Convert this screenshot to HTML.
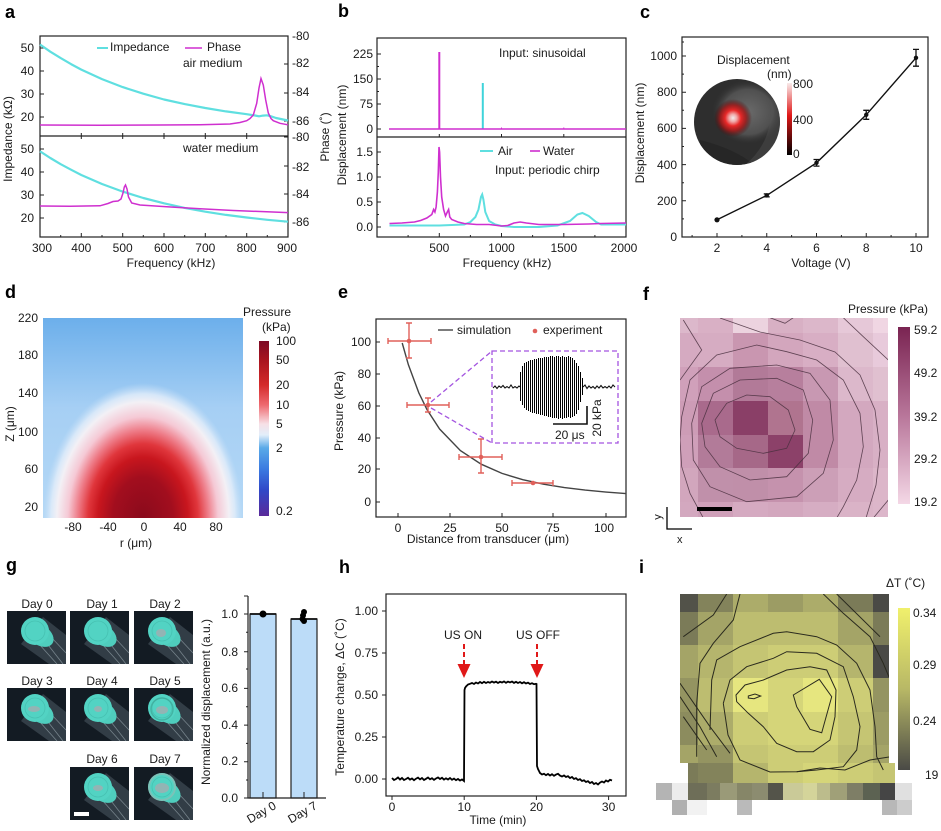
<!DOCTYPE html>
<html><head><meta charset="utf-8">
<style>
html,body{margin:0;padding:0;background:#fff;}
svg{display:block;}
text{font-family:"Liberation Sans",Arial,sans-serif;font-size:12px;fill:#1a1a1a;}
.lbl{font-size:18px;font-weight:bold;fill:#000;}
.ax{fill:none;stroke:#222;stroke-width:1.2;}
.tk{stroke:#222;stroke-width:1;fill:none;}
</style></head><body>
<svg width="941" height="831" viewBox="0 0 941 831" xmlns="http://www.w3.org/2000/svg">
<defs>
<linearGradient id="dbg" x1="0" y1="318" x2="0" y2="518" gradientUnits="userSpaceOnUse">
<stop offset="0" stop-color="#6cafeb"/><stop offset="0.45" stop-color="#a6cff4"/><stop offset="1" stop-color="#b4d8f6"/>
</linearGradient>
<radialGradient id="drad" gradientUnits="userSpaceOnUse" cx="143" cy="518" r="100" gradientTransform="translate(143 518) scale(1 1.35) translate(-143 -518)">
<stop offset="0" stop-color="#8a0a1c"/><stop offset="0.3" stop-color="#a20e1e"/><stop offset="0.45" stop-color="#c8161e"/><stop offset="0.55" stop-color="#e0363c"/><stop offset="0.65" stop-color="#ee7c88"/><stop offset="0.75" stop-color="#f5c9d5"/><stop offset="0.86" stop-color="#f3f0f5"/><stop offset="0.92" stop-color="#e4eefa" stop-opacity="0.8"/><stop offset="1" stop-color="#c8e0f6" stop-opacity="0"/>
</radialGradient>
<linearGradient id="dcb" x1="0" y1="0" x2="0" y2="1">
<stop offset="0" stop-color="#7d0a25"/><stop offset="0.109" stop-color="#a8141f"/><stop offset="0.251" stop-color="#d42a2a"/><stop offset="0.366" stop-color="#ee6a70"/><stop offset="0.474" stop-color="#f7e0e6"/><stop offset="0.537" stop-color="#e2eefa"/><stop offset="0.611" stop-color="#5aaae8"/><stop offset="0.737" stop-color="#3a78e0"/><stop offset="0.851" stop-color="#3048c8"/><stop offset="1" stop-color="#5a2a9a"/>
</linearGradient>
<linearGradient id="ccb" x1="0" y1="0" x2="0" y2="1">
<stop offset="0" stop-color="#f8eaea"/><stop offset="0.45" stop-color="#e01818"/><stop offset="1" stop-color="#000"/>
</linearGradient>
<radialGradient id="chot" cx="0.5" cy="0.5" r="0.5">
<stop offset="0" stop-color="#f2ecec"/><stop offset="0.2" stop-color="#f0a8a8"/><stop offset="0.42" stop-color="#e82828"/><stop offset="0.68" stop-color="#a81414" stop-opacity="0.8"/><stop offset="1" stop-color="#400" stop-opacity="0"/>
</radialGradient>
<radialGradient id="cgray" cx="0.5" cy="0.5" r="0.5">
<stop offset="0" stop-color="#6a6a6a"/><stop offset="0.7" stop-color="#505050"/><stop offset="1" stop-color="#333" stop-opacity="0"/>
</radialGradient>
<linearGradient id="fcb" x1="0" y1="0" x2="0" y2="1">
<stop offset="0" stop-color="#7a2452"/><stop offset="0.5" stop-color="#b8769a"/><stop offset="1" stop-color="#f4d8e6"/>
</linearGradient>
<linearGradient id="icb" x1="0" y1="0" x2="0" y2="1">
<stop offset="0" stop-color="#f0f06c"/><stop offset="0.5" stop-color="#b8b866"/><stop offset="1" stop-color="#4a4a46"/>
</linearGradient>
<clipPath id="cclip"><circle cx="737" cy="122" r="43"/></clipPath>
<clipPath id="fclip"><rect x="680" y="318" width="208" height="199"/></clipPath>
<clipPath id="iclip"><rect x="680" y="594" width="209" height="189"/></clipPath>
<clipPath id="dclip"><rect x="43" y="318" width="200" height="200"/></clipPath>
<g id="tile">
<rect width="59" height="53" fill="#131b23"/>
<polygon points="36,6 59,24 59,53 42,53 14,33" fill="#8fa4b0" fill-opacity="0.25"/>
<path d="M44,26 L59,42 M38,30 L56,53 M32,33 L50,53" stroke="#c8d6de" stroke-opacity="0.45" stroke-width="0.8" fill="none"/>
<ellipse cx="33" cy="24" rx="15" ry="10" transform="rotate(35 33 24)" fill="#4fcdbd"/>
<circle cx="28" cy="20" r="14" fill="#52d3c3"/>
<circle cx="28" cy="20" r="10" fill="none" stroke="#3fb5a6" stroke-width="0.8" opacity="0.6"/>
</g>
</defs>
<rect width="941" height="831" fill="#fff"/>

<!-- ============ Panel a ============ -->
<text class="lbl" x="5" y="18">a</text>
<rect class="ax" x="40" y="36" width="248" height="201"/>
<line class="ax" x1="40" y1="136" x2="288" y2="136"/>
<g class="tk">
<path d="M40,237v-4M81.3,237v-4M122.7,237v-4M164,237v-4M205.3,237v-4M246.7,237v-4M60.7,237v-2M102,237v-2M143.3,237v-2M184.7,237v-2M226,237v-2M267.3,237v-2"/>
<path d="M81.3,133v6M122.7,133v6M164,133v6M205.3,133v6M246.7,133v6"/>
<path d="M40,48h4M40,71h4M40,94h4M40,117h4M40,149h4M40,172h4M40,195h4M40,218h4"/>
<path d="M288,36h-4M288,64h-4M288,93h-4M288,121h-4M288,137h-4M288,166h-4M288,194h-4M288,222h-4"/>
</g>
<g text-anchor="end">
<text x="34" y="52">50</text><text x="34" y="75">40</text><text x="34" y="98">30</text><text x="34" y="121">20</text>
<text x="34" y="153">50</text><text x="34" y="176">40</text><text x="34" y="199">30</text><text x="34" y="222">20</text>
</g>
<g>
<text x="292" y="40">-80</text><text x="292" y="67">-82</text><text x="292" y="96">-84</text><text x="292" y="125">-86</text>
<text x="292" y="141">-80</text><text x="292" y="171">-82</text><text x="292" y="198">-84</text><text x="292" y="226">-86</text>
</g>
<g text-anchor="middle">
<text x="42" y="252">300</text><text x="81.3" y="252">400</text><text x="122.7" y="252">500</text><text x="164" y="252">600</text><text x="205.3" y="252">700</text><text x="246.7" y="252">800</text><text x="287" y="252">900</text>
<text x="171" y="267">Frequency (kHz)</text>
<text transform="translate(12,139) rotate(-90)">Impedance (kΩ)</text>
<text transform="translate(329,137) rotate(-90)">Phase (˚)</text>
</g>
<polyline fill="none" stroke="#5fdfe0" stroke-width="2.2" stroke-linejoin="round" points="40,44.5 50.3,51.7 60.7,58.1 71,64.1 81.3,69.6 102,79.1 122.7,87.1 143.3,93.7 164,99.5 184.7,104.1 205.3,108 226,111.4 246.7,114.2 255,115.5 259,116.3 263,115.6 267,115.3 271,116.3 276,118 288,120.5"/>
<polyline fill="none" stroke="#cf2fcf" stroke-width="1.5" points="40,125 100,125.3 160,125 200,124.8 230,124 240,122.5 246.7,120.7 250,118.5 253.3,115 256.7,103.3 259,88 261,78.5 263.3,85 265.7,100 268.3,113 271,118.5 273.3,120.7 280,123.3 288,124.8"/>
<polyline fill="none" stroke="#5fdfe0" stroke-width="2.2" stroke-linejoin="round" points="40,151.3 50.3,158 60.7,164.2 71,169.7 81.3,175 102,184 122.7,191.6 143.3,198 164,203.3 184.7,207.9 205.3,211.7 226,214.9 246.7,217.5 267.3,219.8 288,221.7"/>
<polyline fill="none" stroke="#cf2fcf" stroke-width="1.5" points="40,206 70,206.3 100,205.8 108,203.5 113,201.5 118,201 121,199 123,193 124.3,187 125.5,185 127,189 128.5,197 131.7,203 140,205 166.7,206.7 200,208.8 233.3,210.5 266.7,211.8 288,212.6"/>
<line x1="97" y1="48" x2="108" y2="48" stroke="#5fdfe0" stroke-width="2"/>
<text x="110" y="51">Impedance</text>
<line x1="185" y1="48" x2="202" y2="48" stroke="#cf2fcf" stroke-width="1.5"/>
<text x="207" y="51">Phase</text>
<text x="183" y="67">air medium</text>
<text x="183" y="152">water medium</text>

<!-- ============ Panel b ============ -->
<text class="lbl" x="338" y="17">b</text>
<rect class="ax" x="377" y="38" width="249" height="199"/>
<line class="ax" x1="377" y1="137" x2="626" y2="137"/>
<g class="tk">
<path d="M439.3,237v-4M501.5,237v-4M563.8,237v-4M408.1,237v-2M470.4,237v-2M532.6,237v-2M594.9,237v-2"/>
<path d="M439.3,137v-3M501.5,137v-3M563.8,137v-3"/>
<path d="M377,54h4M377,79h4M377,104h4M377,129h4M377,152h4M377,177h4M377,202h4M377,227h4M377,66.5h2M377,91.5h2M377,116.5h2M377,164.5h2M377,189.5h2M377,214.5h2"/>
</g>
<g text-anchor="end">
<text x="373" y="58">225</text><text x="373" y="83">150</text><text x="373" y="108">75</text><text x="373" y="133">0</text>
<text x="373" y="156">1.5</text><text x="373" y="181">1.0</text><text x="373" y="206">0.5</text><text x="373" y="231">0.0</text>
</g>
<g text-anchor="middle">
<text x="439.3" y="252">500</text><text x="501.5" y="252">1000</text><text x="563.8" y="252">1500</text><text x="624" y="252">2000</text>
<text x="507" y="267">Frequency (kHz)</text>
<text transform="translate(346,135) rotate(-90)">Displacement (nm)</text>
</g>
<line x1="482.8" y1="129" x2="482.8" y2="83" stroke="#3fd4da" stroke-width="2"/>
<line x1="389" y1="129" x2="626" y2="129" stroke="#cf2fcf" stroke-width="1.6"/>
<line x1="439.3" y1="129" x2="439.3" y2="52" stroke="#cf2fcf" stroke-width="2"/>
<path d="M501.5,129v-1.5M563.8,129v-1.5" stroke="#cf2fcf" stroke-width="1"/>
<text x="499" y="57">Input: sinusoidal</text>
<polyline fill="none" stroke="#5fdfe0" stroke-width="2" points="389.5,225.5 439.3,225.5 464.2,224.5 470.4,222 475.4,217 478.5,209.5 481,197 482.2,194.5 483.4,199.5 485.3,212 489.1,221 495.3,224.5 501.5,226 514,227 538.9,227 557.5,225.5 570,221 577.4,214.5 582.4,213 588.7,216 596.1,222 601.1,224.5 626,224.5"/>
<polyline fill="none" stroke="#cf2fcf" stroke-width="1.6" points="389.5,223.5 401.9,223 414.4,222 420.6,220.5 426.8,218 431.8,214.5 433.6,209.5 434.9,212 436.1,207 437.4,192 438.3,172 439,147 439.6,152 440.5,177 441.7,197 443.6,209.5 445.5,216 447.3,212 448.6,209.5 449.8,217 451.7,219.5 457.9,222 464.2,223.5 476.6,224.5 489.1,224.5 501.5,226 507.7,225.5 514,223 520.2,222 526.4,223 538.9,224.5 563.8,224.5 588.7,224 601.1,223.5 626,223"/>
<line x1="480" y1="151" x2="493" y2="151" stroke="#5fdfe0" stroke-width="2"/>
<text x="498" y="155">Air</text>
<line x1="530" y1="151" x2="540" y2="151" stroke="#cf2fcf" stroke-width="1.6"/>
<text x="543" y="155">Water</text>
<text x="495" y="174">Input: periodic chirp</text>

<!-- ============ Panel c ============ -->
<text class="lbl" x="640" y="18">c</text>
<rect class="ax" x="682" y="37" width="246" height="200"/>
<g class="tk">
<path d="M682,200.8h4M682,164.6h4M682,128.4h4M682,92.2h4M682,56h4M682,218.9h2M682,182.7h2M682,146.5h2M682,110.3h2M682,74.1h2M682,42h2"/>
<path d="M717,237v-4M766.75,237v-4M816.5,237v-4M866.25,237v-4M916,237v-4M692.1,237v-2M741.9,237v-2M791.6,237v-2M841.4,237v-2M891.1,237v-2"/>
</g>
<g text-anchor="end">
<text x="677" y="60">1000</text><text x="677" y="96">800</text><text x="677" y="132">600</text><text x="677" y="169">400</text><text x="677" y="205">200</text><text x="677" y="241">0</text>
</g>
<g text-anchor="middle">
<text x="717" y="252">2</text><text x="766.75" y="252">4</text><text x="816.5" y="252">6</text><text x="866.25" y="252">8</text><text x="916" y="252">10</text>
<text x="821" y="267">Voltage (V)</text>
<text transform="translate(644,133) rotate(-90)">Displacement (nm)</text>
</g>
<polyline fill="none" stroke="#111" stroke-width="1.4" points="717,219.8 766.75,195.4 816.5,162.8 866.25,114.8 916,57.8"/>
<g stroke="#111" stroke-width="1.3">
<path d="M766.75,193.9v3M763.75,193.9h6M763.75,196.9h6"/>
<path d="M816.5,159.5v6.6M813.5,159.5h6M813.5,166.1h6"/>
<path d="M866.25,110.3v9M863.25,110.3h6M863.25,119.3h6"/>
<path d="M916,49.4v16.8M913,49.4h6M913,66.2h6"/>
</g>
<g fill="#111">
<circle cx="717" cy="219.8" r="2.6"/><circle cx="766.75" cy="195.4" r="2.2"/><circle cx="816.5" cy="162.8" r="2.2"/><circle cx="866.25" cy="114.8" r="2.2"/><circle cx="916" cy="57.8" r="2.2"/>
</g>
<circle cx="737" cy="122" r="43" fill="#2e2e2e"/>
<g clip-path="url(#cclip)">
<ellipse cx="748" cy="112" rx="36" ry="32" fill="url(#cgray)"/>
<path d="M700,140 Q740,150 760,170 L700,170Z" fill="#262626"/>
<path d="M770,100 Q775,140 745,165 L790,170 L790,95Z" fill="#555" opacity="0.4"/>
<circle cx="733" cy="118" r="19" fill="url(#chot)"/>
</g>
<rect x="787" y="83" width="5" height="72" fill="url(#ccb)"/>
<text x="717" y="64">Displacement</text>
<text x="767" y="78">(nm)</text>
<text x="793" y="88">800</text><text x="793" y="124">400</text><text x="793" y="158">0</text>

<!-- ============ Panel d ============ -->
<text class="lbl" x="5" y="298">d</text>
<rect x="43" y="318" width="200" height="200" fill="url(#dbg)"/>
<g clip-path="url(#dclip)">
<rect x="43" y="318" width="200" height="200" fill="url(#drad)"/>
</g>
<g text-anchor="end">
<text x="38" y="322">220</text><text x="38" y="359">180</text><text x="38" y="397">140</text><text x="38" y="436">100</text><text x="38" y="473">60</text><text x="38" y="511">20</text>
</g>
<g text-anchor="middle">
<text x="73" y="531">-80</text><text x="108" y="531">-40</text><text x="144" y="531">0</text><text x="180" y="531">40</text><text x="216" y="531">80</text>
<text x="136" y="547">r (μm)</text>
<text transform="translate(14,424) rotate(-90)">Z (μm)</text>
</g>
<rect x="259" y="341" width="10" height="175" fill="url(#dcb)"/>
<text x="243" y="316">Pressure</text>
<text x="262" y="331">(kPa)</text>
<g>
<text x="276" y="345">100</text><text x="276" y="364">50</text><text x="276" y="389">20</text><text x="276" y="409">10</text><text x="276" y="428">5</text><text x="276" y="452">2</text><text x="276" y="515">0.2</text>
</g>

<!-- ============ Panel e ============ -->
<text class="lbl" x="338" y="298">e</text>
<rect class="ax" x="376" y="319" width="250" height="198"/>
<g class="tk">
<path d="M376,342h4M376,374h4M376,406h4M376,438h4M376,469h4M376,502h4"/>
<path d="M398,517v-4M450,517v-4M502,517v-4M553,517v-4M606,517v-4"/>
</g>
<g text-anchor="end">
<text x="371" y="346">100</text><text x="371" y="378">80</text><text x="371" y="410">60</text><text x="371" y="442">40</text><text x="371" y="473">20</text><text x="371" y="506">0</text>
</g>
<g text-anchor="middle">
<text x="398" y="532">0</text><text x="450" y="532">25</text><text x="502" y="532">50</text><text x="553" y="532">75</text><text x="604" y="532">100</text>
<text x="488" y="543">Distance from transducer (μm)</text>
<text transform="translate(343,411) rotate(-90)">Pressure (kPa)</text>
</g>
<polyline fill="none" stroke="#444" stroke-width="1.4" points="402.2,343 408.4,364.8 418.8,392.8 427.1,409.8 439.6,429 460.4,450.6 481.2,464.2 502,473.4 522.8,479.7 543.6,484.2 564.4,487.6 585.2,490.1 606,492.1 626,493.6"/>
<g stroke="#e0605a" stroke-width="1.4" fill="none">
<path d="M388,341h43M388,338v6M431,338v6M409,323v35M406,323h6M406,358h6"/>
<path d="M407,405h42M407,402v6M449,402v6M428,398v14M425,398h6M425,412h6"/>
<path d="M459,457h43M459,454v6M502,454v6M481,439v34M478,439h6M478,473h6"/>
<path d="M512,483h41M512,480v6M553,480v6"/>
</g>
<g fill="#e0605a">
<circle cx="409" cy="341" r="2.3"/><circle cx="428" cy="405" r="2.3"/><circle cx="481" cy="457" r="2.3"/><circle cx="533" cy="483" r="2.3"/>
</g>
<g stroke="#a455e0" stroke-width="1.3" stroke-dasharray="5,3" fill="none">
<rect x="492" y="351" width="126" height="92"/>
<path d="M431,402 L492,351 M431,408 L492,443"/>
</g>
<polyline fill="none" stroke="#111" stroke-width="1.1" points="493,388 495,386 497,388.5 499,386 501,387.5 503,385.5 505,388 507,386.5 509,388 511,385 513,388 515,386.5 517,388 519,386 520,387"/>
<polyline fill="none" stroke="#111" stroke-width="1.1" points="583,387 585,385 587,388.5 589,386 591,388 593,386.5 595,388.5 597,386 599,388 601,385.5 603,388 605,386.5 607,388 609,386 611,388 613,385 615,387"/>
<path fill="none" stroke="#000" stroke-width="1.3" shape-rendering="crispEdges" d="M520.5,372V401 M522.5,366V405 M524.5,363V408 M526.5,362V410 M528.5,361V411 M530.5,360V412 M532.5,360V413 M534.5,359V413 M536.5,359V414 M538.5,358V414 M540.5,358V415 M542.5,358V415 M544.5,357V416 M546.5,357V416 M548.5,357V417 M550.5,356V417 M552.5,356V418 M554.5,357V418 M556.5,356V418 M558.5,356V419 M560.5,357V418 M562.5,356V419 M564.5,357V418 M566.5,357V418 M568.5,356V417 M570.5,357V418 M572.5,358V417 M574.5,360V416 M576.5,363V414 M578.5,366V410 M580.5,372V402 M582.5,378V395"/>
<path d="M587,406 V424 H553" fill="none" stroke="#111" stroke-width="1.6"/>
<text x="555" y="439">20 μs</text>
<text transform="translate(601,418) rotate(-90)" text-anchor="middle">20 kPa</text>
<line x1="438" y1="330" x2="453" y2="330" stroke="#444" stroke-width="1.4"/>
<text x="457" y="334">simulation</text>
<circle cx="535" cy="331" r="2.3" fill="#e0605a"/>
<text x="543" y="334">experiment</text>

<!-- ============ Panel f ============ -->
<text class="lbl" x="643" y="300">f</text>
<g>
<rect x="680" y="318" width="18" height="15" fill="#dcb8cb"/><rect x="698" y="318" width="35" height="15" fill="#d9b0c5"/><rect x="733" y="318" width="35" height="15" fill="#ecd3df"/><rect x="768" y="318" width="35" height="15" fill="#d8b0c4"/><rect x="803" y="318" width="35" height="15" fill="#dcb7ca"/><rect x="838" y="318" width="35" height="15" fill="#e6c8d8"/><rect x="873" y="318" width="15" height="15" fill="#f0d6e3"/>
<rect x="680" y="333" width="18" height="34" fill="#d5aac1"/><rect x="698" y="333" width="35" height="34" fill="#d6acc2"/><rect x="733" y="333" width="35" height="34" fill="#c996b0"/><rect x="768" y="333" width="35" height="34" fill="#d3a6bd"/><rect x="803" y="333" width="35" height="34" fill="#d8aec4"/><rect x="838" y="333" width="35" height="34" fill="#e0c0d0"/><rect x="873" y="333" width="15" height="34" fill="#e8cadb"/>
<rect x="680" y="367" width="18" height="34" fill="#d0a0ba"/><rect x="698" y="367" width="35" height="34" fill="#c48fac"/><rect x="733" y="367" width="35" height="34" fill="#b27a98"/><rect x="768" y="367" width="35" height="34" fill="#b77f9d"/><rect x="803" y="367" width="35" height="34" fill="#c898b2"/><rect x="838" y="367" width="35" height="34" fill="#dcb8cb"/><rect x="873" y="367" width="15" height="34" fill="#e0c0d0"/>
<rect x="680" y="401" width="18" height="34" fill="#cd9cb6"/><rect x="698" y="401" width="35" height="34" fill="#a96a8c"/><rect x="733" y="401" width="35" height="34" fill="#8a3f67"/><rect x="768" y="401" width="35" height="34" fill="#b0748f"/><rect x="803" y="401" width="35" height="34" fill="#c08aa6"/><rect x="838" y="401" width="35" height="34" fill="#d3a8bf"/><rect x="873" y="401" width="15" height="34" fill="#d8b0c5"/>
<rect x="680" y="435" width="18" height="33" fill="#cf9fb9"/><rect x="698" y="435" width="35" height="33" fill="#b27b99"/><rect x="733" y="435" width="35" height="33" fill="#a66888"/><rect x="768" y="435" width="35" height="33" fill="#8c4169"/><rect x="803" y="435" width="35" height="33" fill="#c08aa6"/><rect x="838" y="435" width="35" height="33" fill="#d3a8bf"/><rect x="873" y="435" width="15" height="33" fill="#d8b0c5"/>
<rect x="680" y="468" width="18" height="34" fill="#d2a6bd"/><rect x="698" y="468" width="35" height="34" fill="#c090aa"/><rect x="733" y="468" width="35" height="34" fill="#c08fa9"/><rect x="768" y="468" width="35" height="34" fill="#c592ad"/><rect x="803" y="468" width="35" height="34" fill="#cc9fb7"/><rect x="838" y="468" width="35" height="34" fill="#d6acc2"/><rect x="873" y="468" width="15" height="34" fill="#dcb6c9"/>
<rect x="680" y="502" width="18" height="15" fill="#d3a8bf"/><rect x="698" y="502" width="35" height="15" fill="#cfa0b9"/><rect x="733" y="502" width="35" height="15" fill="#d5aac1"/><rect x="768" y="502" width="35" height="15" fill="#d3a7be"/><rect x="803" y="502" width="35" height="15" fill="#d6adc3"/><rect x="838" y="502" width="35" height="15" fill="#dab3c7"/><rect x="873" y="502" width="15" height="15" fill="#dcb6ca"/>
</g>
<g clip-path="url(#fclip)" fill="none" stroke="#4a3040" stroke-width="0.8" stroke-opacity="0.85">
<polygon points="715,420 726.7,403.3 746.7,395 770,396.7 788.3,410 795,430 786.7,448.3 763.3,453.3 736.7,448.3 720,436.7"/>
<polygon points="701.7,423.3 713.3,393.3 740,380 776.7,378.3 803.3,390 812.7,420 808.3,453.3 786.7,476.7 750,480 720,466.7 705,446.7"/>
<polygon points="691.7,423.3 701.7,386.7 730,368.3 776.7,365 810,373.3 830,400 833.3,440 823.3,473.3 796.7,496.7 746.7,501.7 710,486.7 693.3,460"/>
<polyline points="836.7,518 843.3,506.7 856.7,480 863.3,446.7 860,413.3 843.3,380 816.7,360 786.7,351.7 756.7,345 716.7,355 690,380 681.7,416.7 680,440 681.7,466.7 690,493.3 703.3,518"/>
<polyline points="720,318 760,332 800,340 835,352 860,375 875,410 880,450 876,485 866,518"/>
<polyline points="843.3,317.7 863.3,336.7 888.3,360"/>
<polyline points="770,317.7 785,323.3 793.3,317.7"/>
<polyline points="683.3,320 701.7,350 680,380"/>
<polyline points="873.3,518 888.3,500"/>
</g>
<rect x="697" y="507" width="35" height="4" fill="#000"/>
<path d="M667,507 V529 H692" fill="none" stroke="#000" stroke-width="1.3"/>
<text transform="translate(661,517) rotate(-90)" text-anchor="middle" style="font-size:11px">y</text>
<text x="677" y="543" style="font-size:11px">x</text>
<rect x="898" y="327" width="12" height="177" fill="url(#fcb)"/>
<text x="848" y="313">Pressure (kPa)</text>
<text x="914" y="334">59.2</text><text x="914" y="377">49.2</text><text x="914" y="421">39.2</text><text x="914" y="463">29.2</text><text x="914" y="506">19.2</text>

<!-- ============ Panel g ============ -->
<text class="lbl" x="6" y="571">g</text>
<use href="#tile" x="7" y="611"/><use href="#tile" x="70" y="611"/><use href="#tile" x="134" y="611"/>
<use href="#tile" x="7" y="688"/><use href="#tile" x="70" y="688"/><use href="#tile" x="134" y="688"/>
<use href="#tile" x="70" y="767"/><use href="#tile" x="134" y="767"/>
<g fill="#c89aa8" fill-opacity="0.55">
<ellipse cx="161" cy="633" rx="5" ry="4"/><ellipse cx="34" cy="709" rx="6" ry="3"/><ellipse cx="98" cy="709" rx="4" ry="3"/><ellipse cx="162" cy="710" rx="6" ry="4"/><ellipse cx="98" cy="788" rx="5" ry="3"/><ellipse cx="162" cy="788" rx="7" ry="5"/>
</g>
<circle cx="162" cy="787" r="13" fill="none" stroke="#9ab8b0" stroke-width="2" opacity="0.6"/>
<circle cx="162" cy="709" r="11" fill="none" stroke="#3aa090" stroke-width="1.5" opacity="0.6"/>
<rect x="74" y="812" width="15" height="4" fill="#fff"/>
<g text-anchor="middle">
<text x="37" y="608">Day 0</text><text x="102" y="608">Day 1</text><text x="165" y="608">Day 2</text>
<text x="37" y="685">Day 3</text><text x="102" y="685">Day 4</text><text x="165" y="685">Day 5</text>
<text x="102" y="763">Day 6</text><text x="165" y="763">Day 7</text>
</g>
<rect x="250" y="614" width="26" height="184" fill="#bcdcf8" stroke="#222" stroke-width="1.2"/>
<rect x="291" y="619" width="26" height="179" fill="#bcdcf8" stroke="#222" stroke-width="1.2"/>
<path d="M250,614h26M291,619h26" stroke="#111" stroke-width="1.8"/>
<path d="M248,596 V798 H326" fill="none" stroke="#222" stroke-width="1.2"/>
<g class="tk">
<path d="M248,614h-4M248,651.7h-4M248,688.4h-4M248,725.1h-4M248,761.8h-4M248,798h-4M248,632.3h-2M248,669h-2M248,706.7h-2M248,743.4h-2M248,780h-2M248,596h-4"/>
<path d="M263,798v-6M304,798v-6"/>
</g>
<g fill="#000">
<circle cx="263" cy="614" r="3.5"/>
<circle cx="304" cy="612" r="3"/><circle cx="303" cy="615.5" r="3"/><circle cx="302.5" cy="619" r="3"/><circle cx="304" cy="621" r="3"/>
</g>
<g text-anchor="end">
<text x="238" y="618">1.0</text><text x="238" y="656">0.8</text><text x="238" y="692">0.6</text><text x="238" y="729">0.4</text><text x="238" y="765">0.2</text><text x="238" y="802">0.0</text>
<text transform="translate(277,808) rotate(-30)">Day 0</text>
<text transform="translate(318,808) rotate(-30)">Day 7</text>
</g>
<text transform="translate(210,702) rotate(-90)" text-anchor="middle">Normalized displacement (a.u.)</text>

<!-- ============ Panel h ============ -->
<text class="lbl" x="339" y="573">h</text>
<rect class="ax" x="386" y="594" width="240" height="202"/>
<g class="tk">
<path d="M386,611h-4M386,653h-4M386,695h-4M386,737h-4M386,779h-4"/>
<path d="M392,796v4M464.2,796v4M536.4,796v4M608.6,796v4"/>
</g>
<g text-anchor="end">
<text x="378" y="615">1.00</text><text x="378" y="657">0.75</text><text x="378" y="699">0.50</text><text x="378" y="741">0.25</text><text x="378" y="783">0.00</text>
</g>
<g text-anchor="middle">
<text x="392" y="811">0</text><text x="464.2" y="811">10</text><text x="536.4" y="811">20</text><text x="608.6" y="811">30</text>
<text x="498" y="824">Time (min)</text>
<text transform="translate(344,697) rotate(-90)">Temperature change, ΔC (˚C)</text>
<text x="463" y="639">US ON</text>
<text x="538" y="639">US OFF</text>
</g>
<polyline fill="none" stroke="#000" stroke-width="1.8" points="392,778 394,780 396,779 398,777.5 400,779.5 402,778 404,780 406,779 408,777.8 410,779.6 412,778.5 414,780.2 416,778.7 418,777.6 420,779.4 422,778 424,780 426,778.8 428,777.5 430,779.3 432,778.2 434,779.9 436,778.5 438,777.4 440,779 442,777.8 444,779.6 446,778.3 448,779.5 450,778 452,779.8 454,778.6 456,780.2 458,779 460,780.5 462,779.4 464,781 464.5,690 465,688 466,686.5 467,685.5 468,684.5 470,683.8 472,683 474,684 476,682.5 478,683.5 480,682 482,683.2 484,681.8 486,683 488,682 490,682.8 492,681.5 494,682.6 496,681.7 498,683 500,681.8 502,682.5 504,681.4 506,682.8 508,681.6 510,682.4 512,681.5 514,682.9 516,681.8 518,683 520,682 522,683.3 524,682.2 526,683.5 528,682.6 530,684 532,683.2 534,684.2 536,683.8 536.5,684 537,766 538,769 539,771 540,773 542,774.5 544,773.8 546,775.2 548,774 550,775.5 552,774.2 554,775.8 556,774.6 558,773.8 560,775.6 562,776.5 564,775.4 566,777 568,776.2 570,778 572,777 574,779 576,778.2 578,780 580,779.2 582,781 584,780.3 586,782 588,781.2 590,783 592,782 594,784 596,783 598,784.5 600,782.6 602,781.5 604,782.5 606,780.5 608,781.5 610,779.8 612,780.5"/>
<g stroke="#e01818" stroke-width="2" stroke-dasharray="5,3">
<line x1="464" y1="644" x2="464" y2="667"/><line x1="537" y1="644" x2="537" y2="667"/>
</g>
<polygon points="457.5,664 470.5,664 464,678" fill="#e01818"/>
<polygon points="530.5,664 543.5,664 537,678" fill="#e01818"/>

<!-- ============ Panel i ============ -->
<text class="lbl" x="639" y="573">i</text>
<g>
<rect x="680" y="594" width="18" height="18" fill="#525249"/><rect x="698" y="594" width="35" height="18" fill="#83835b"/><rect x="733" y="594" width="35" height="18" fill="#acac6a"/><rect x="768" y="594" width="35" height="18" fill="#9c9c64"/><rect x="803" y="594" width="35" height="18" fill="#acac6a"/><rect x="838" y="594" width="35" height="18" fill="#7b7b58"/><rect x="873" y="594" width="16" height="18" fill="#4a4a46"/>
<rect x="680" y="612" width="18" height="33" fill="#7b7b58"/><rect x="698" y="612" width="35" height="33" fill="#a4a467"/><rect x="733" y="612" width="35" height="33" fill="#bdbd70"/><rect x="768" y="612" width="35" height="33" fill="#bdbd70"/><rect x="803" y="612" width="35" height="33" fill="#bdbd70"/><rect x="838" y="612" width="35" height="33" fill="#a4a467"/><rect x="873" y="612" width="16" height="33" fill="#7b7b58"/>
<rect x="680" y="645" width="18" height="33" fill="#a4a467"/><rect x="698" y="645" width="35" height="33" fill="#b5b56d"/><rect x="733" y="645" width="35" height="33" fill="#c5c573"/><rect x="768" y="645" width="35" height="33" fill="#cdcd76"/><rect x="803" y="645" width="35" height="33" fill="#cdcd76"/><rect x="838" y="645" width="35" height="33" fill="#b5b56d"/><rect x="873" y="645" width="16" height="33" fill="#4a4a46"/>
<rect x="680" y="678" width="18" height="34" fill="#949461"/><rect x="698" y="678" width="35" height="34" fill="#bdbd70"/><rect x="733" y="678" width="35" height="34" fill="#e6e67f"/><rect x="768" y="678" width="35" height="34" fill="#d5d579"/><rect x="803" y="678" width="35" height="34" fill="#e6e67f"/><rect x="838" y="678" width="35" height="34" fill="#cdcd76"/><rect x="873" y="678" width="16" height="34" fill="#949461"/>
<rect x="680" y="712" width="18" height="33" fill="#8c8c5e"/><rect x="698" y="712" width="35" height="33" fill="#acac6a"/><rect x="733" y="712" width="35" height="33" fill="#cdcd76"/><rect x="768" y="712" width="35" height="33" fill="#d5d579"/><rect x="803" y="712" width="35" height="33" fill="#d5d579"/><rect x="838" y="712" width="35" height="33" fill="#c5c573"/><rect x="873" y="712" width="16" height="33" fill="#9c9c64"/>
<rect x="680" y="745" width="18" height="18" fill="#a4a467"/><rect x="698" y="745" width="35" height="18" fill="#949461"/><rect x="733" y="745" width="35" height="18" fill="#c5c573"/><rect x="768" y="745" width="35" height="18" fill="#cdcd76"/><rect x="803" y="745" width="35" height="18" fill="#cdcd76"/><rect x="838" y="745" width="35" height="18" fill="#bdbd70"/><rect x="873" y="745" width="16" height="18" fill="#a4a467"/>
<rect x="688" y="763" width="10" height="20" fill="#7b7b58"/><rect x="698" y="763" width="35" height="20" fill="#83835b"/><rect x="733" y="763" width="35" height="20" fill="#b5b56d"/><rect x="768" y="763" width="35" height="20" fill="#cdcd76"/><rect x="803" y="763" width="35" height="20" fill="#d5d579"/><rect x="838" y="763" width="35" height="20" fill="#cdcd76"/><rect x="873" y="763" width="22" height="20" fill="#c5c573"/>
</g>
<g clip-path="url(#iclip)" fill="none" stroke="#2a2a1e" stroke-width="1">
<polygon points="748.3,696 755,694 760.7,696 754,698.7 748.3,698"/>
<polygon points="793.3,695 819.3,679.3 831.7,696.7 821.7,732.7 810,729.3 796.7,706.7"/>
<polygon points="736,695 745,685 763.3,680 786.7,670 810,666.7 826.7,670 836,690 835,716.7 830,740 813.3,751.7 796.7,751.7 776.7,743.3 763.3,726.7 748.3,713.3 736.7,701.7"/>
<polyline points="723.3,703.3 730,680 746.7,666.7 773.3,658.3 786.7,651.7 816.7,653.3 843.3,666.7 853.3,696.7 860,726.7 856.7,750 843.3,766.7 816.7,770 796.7,771.7 770,772 740,760 728,735 723.3,703.3"/>
<polyline points="710,730 711.7,680 716.7,660 740,646.7 773.3,633.3 786.7,631.7 816.7,636.7 836.7,645 856.7,663.3 870,690 875,726.7 876.7,756.7 883.3,770"/>
<polyline points="696.7,756.7 696.7,703.3 700,663.3 713.3,643.3 733.3,620 740,594"/>
<polyline points="823.3,594 843.3,613.3 870,636.7 883.3,663.3 889,677"/>
<polyline points="683.3,636.7 713.3,615 726.7,594"/>
<polyline points="836.7,594 880,636.7"/>
<polyline points="680,683.3 710,726.7 730,753.3"/>
<polyline points="680,696.7 700,726.7 716.7,756.7"/>
<polyline points="683.3,716.7 706.7,750"/>
<polyline points="796.7,771.7 820,768 845,770 870,760 889,757"/>
</g>
<g>
<rect x="656" y="783" width="16" height="17" fill="#b4b4b4"/><rect x="672" y="783" width="16" height="17" fill="#ececec"/><rect x="688" y="783" width="19" height="17" fill="#6e6e58"/><rect x="707" y="783" width="13" height="17" fill="#7c7c60"/><rect x="720" y="783" width="17" height="17" fill="#9a9a78"/><rect x="737" y="783" width="15" height="17" fill="#868668"/><rect x="752" y="783" width="16" height="17" fill="#8c8c70"/><rect x="768" y="783" width="15" height="17" fill="#54544a"/><rect x="783" y="783" width="20" height="17" fill="#caca98"/><rect x="803" y="783" width="14" height="17" fill="#d4d49a"/><rect x="817" y="783" width="13" height="17" fill="#bcbc8c"/><rect x="830" y="783" width="17" height="17" fill="#a0a078"/><rect x="847" y="783" width="16" height="17" fill="#7e7e66"/><rect x="863" y="783" width="17" height="17" fill="#5c6252"/><rect x="880" y="783" width="15" height="17" fill="#454545"/><rect x="895" y="783" width="17" height="17" fill="#e0e0e0"/>
<rect x="672" y="800" width="15" height="15" fill="#b0b0b0"/><rect x="687" y="800" width="20" height="15" fill="#f2f2f2"/><rect x="737" y="800" width="15" height="15" fill="#bababa"/><rect x="882" y="800" width="15" height="15" fill="#b8b8b8"/><rect x="897" y="800" width="15" height="15" fill="#cccccc"/>
</g>
<rect x="898" y="608" width="12" height="162" fill="url(#icb)"/>
<text x="886" y="587">ΔT (˚C)</text>
<text x="913" y="617">0.34</text><text x="913" y="669">0.29</text><text x="913" y="725">0.24</text><text x="925" y="779">19</text>
</svg>
</body></html>
